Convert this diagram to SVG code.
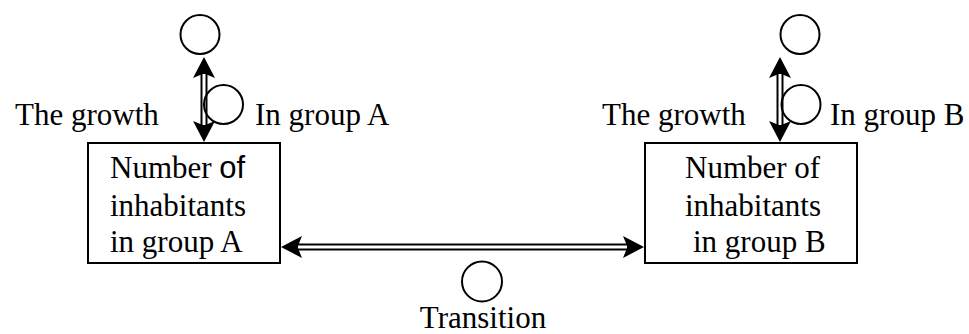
<svg xmlns="http://www.w3.org/2000/svg" xmlns:xlink="http://www.w3.org/1999/xlink" width="969" height="334" viewBox="0 0 969 334">
  <style>
    text { font-family: "Liberation Serif", "Times New Roman", serif; font-size: 31px; fill: #000; }
    .sans { font-family: "Liberation Sans", Arial, sans-serif; }
    .box { fill: #fff; stroke: #000; stroke-width: 2; }
    .circ { fill: none; stroke: #000; stroke-width: 2; }
    .outer { stroke: #000; stroke-width: 7; fill: none; }
    .inner { stroke: #fff; stroke-width: 3; fill: none; }
    .head { fill: #000; }
  </style>
  <defs>
    <path id="head" class="head" d="M0,0 L11,21 L0,16.5 L-11,21 Z"/>
  </defs>
  <rect width="969" height="334" fill="#fff"/>

  <g id="connectors">
    <!-- vertical A -->
    <line class="outer" x1="204" y1="70" x2="204" y2="129"/>
    <line class="inner" x1="204" y1="74" x2="204" y2="125"/>
    <use xlink:href="#head" href="#head" transform="translate(204,57)"/>
    <use xlink:href="#head" href="#head" transform="translate(204,142) rotate(180)"/>
    <!-- vertical B -->
    <line class="outer" x1="780" y1="70" x2="780" y2="129"/>
    <line class="inner" x1="780" y1="74" x2="780" y2="125"/>
    <use xlink:href="#head" href="#head" transform="translate(780,57)"/>
    <use xlink:href="#head" href="#head" transform="translate(780,142) rotate(180)"/>
    <!-- horizontal -->
    <line class="outer" x1="294" y1="247" x2="631" y2="247"/>
    <line class="inner" x1="298" y1="247" x2="627" y2="247"/>
    <use xlink:href="#head" href="#head" transform="translate(281,247) rotate(-90)"/>
    <use xlink:href="#head" href="#head" transform="translate(644,247) rotate(90)"/>
  </g>

  <g id="boxA">
    <rect class="box" x="88" y="143" width="192" height="120"/>
    <text x="110" y="178">Number <tspan class="sans">of</tspan></text>
    <text x="110" y="216">inhabitants</text>
    <text x="110" y="252">in group A</text>
  </g>

  <g id="boxB">
    <rect class="box" x="645" y="143" width="212" height="120"/>
    <text x="685" y="178">Number of</text>
    <text x="685" y="216">inhabitants</text>
    <text x="693" y="252">in group B</text>
  </g>

  <g id="circleA-top"><circle class="circ" cx="200" cy="34.5" r="19.5"/></g>
  <g id="circleA-growth"><circle class="circ" cx="223.5" cy="104.5" r="19.5"/></g>
  <g id="circleB-top"><circle class="circ" cx="800" cy="34.5" r="19.5"/></g>
  <g id="circleB-growth"><circle class="circ" cx="801" cy="104.5" r="19.5"/></g>
  <g id="circleTransition"><circle class="circ" cx="482" cy="281.5" r="20"/></g>

  <g id="labels">
    <text x="15" y="125">The growth</text>
    <text x="255" y="125">In group A</text>
    <text x="602" y="125">The growth</text>
    <text x="830" y="125">In group B</text>
    <text x="483" y="328" text-anchor="middle">Transition</text>
  </g>
</svg>
